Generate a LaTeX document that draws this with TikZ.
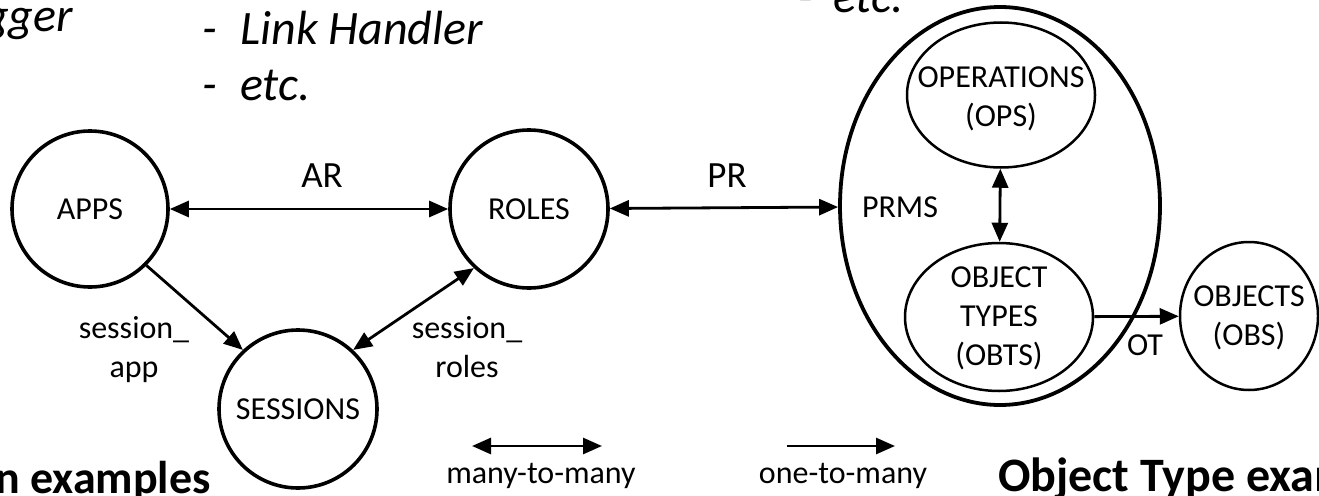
\documentclass[tikz,border=0pt]{standalone}
\usepackage{fontspec}
\setmainfont{Carlito}
\usetikzlibrary{arrows.meta,shapes.geometric}

\begin{document}
\begin{tikzpicture}[x=1pt,y=-1pt,
  lbl/.style={font=\fontsize{32}{39}\selectfont, inner sep=0pt},
  big/.style={font=\fontsize{37}{44}\selectfont, inner sep=0pt},
  ent/.style={circle, draw, line width=3.6pt, minimum size=158pt, inner sep=0pt,
              font=\fontsize{32}{39}\selectfont},
  sub/.style={ellipse, draw, line width=2.5pt, inner sep=0pt},
  link/.style={line width=2.8pt, -{Triangle[length=19pt,width=16pt]}},
  both/.style={line width=2.8pt, {Triangle[length=19pt,width=16pt]}-{Triangle[length=19pt,width=16pt]}},
  lst/.style={font=\fontsize{48}{57}\selectfont\itshape, inner sep=0pt, anchor=base west},
  head/.style={font=\fontsize{48}{57}\selectfont\bfseries, inner sep=0pt, anchor=base west}
]
\useasboundingbox (0,0) rectangle (1319,495);

% example lists (partly outside the page)
\node[lst, anchor=base east] (tl) at (73,32) {gger};
\node[lst] (l1d) at (202,45) {-};
\node[lst] (l1) at (240,45) {Link Handler};
\node[lst] (l2d) at (202,100) {-};
\node[lst] (l2) at (240,100) {etc.};
\node[lst] (r2d) at (798,13) {-};
\node[lst] (r2) at (833,13) {etc.};

% entity sets
\node[ent, minimum size=156pt] (apps) at (90,209) {APPS};
\node[ent] (roles) at (529,209) {ROLES};
\node[ent] (sessions) at (298,409) {SESSIONS};

% permissions: operations and object types
\node[ellipse, draw, line width=3.8pt, minimum width=320pt, minimum height=398pt] (prms) at (1000,206) {};
\node[lbl] (prmslbl) at (900,207) {PRMS};
\node[sub, minimum width=188pt, minimum height=145pt] (ops) at (1001,95) {};
\node[lbl, align=center] (opslbl) at (1001,99) {OPERATIONS\\(OPS)};
\node[sub, minimum width=188pt, minimum height=148pt] (obts) at (999,317) {};
\node[lbl, align=center] (obtslbl) at (999,318) {OBJECT\\TYPES\\(OBTS)};
\node[sub, minimum width=138pt, minimum height=148pt] (objs) at (1249,316) {};
\node[lbl, align=center] (objslbl) at (1249,318) {OBJECTS\\(OBS)};

% relations
\draw[both] (apps) -- (roles);
\node[big] (ar) at (322,176) {AR};
\draw[both] (roles) -- (prms);
\node[big] (pr) at (727,176) {PR};
\draw[link] (apps.-45) -- (sessions.133);
\node[lbl, align=center, anchor=base] (sa) at (134,377) {session\_\\app};
\draw[both] (roles.227) -- (sessions.47);
\node[lbl, align=center, anchor=base] (sr) at (467,377) {session\_\\roles};
\draw[both] (ops) -- (obts);
\draw[link] (obts) -- (objs);
\node[lbl] (ot) at (1145,345) {OT};

% legend
\coordinate (mm1) at (472,446);
\coordinate (mm2) at (602,446);
\draw[both] (mm1) -- (mm2);
\node[lbl, anchor=base] (mmlbl) at (541,483) {many-to-many};
\coordinate (om1) at (787,446);
\coordinate (om2) at (895,446);
\draw[link] (om1) -- (om2);
\node[lbl, anchor=base] (omlbl) at (843,483) {one-to-many};

% headings (cut by the page edge)
\node[head, font=\fontsize{46}{55}\selectfont\bfseries, anchor=base east] (h1) at (211,493) {n examples};
\node[head] (h2) at (998,491) {Object Type exam};
\end{tikzpicture}
\end{document}
